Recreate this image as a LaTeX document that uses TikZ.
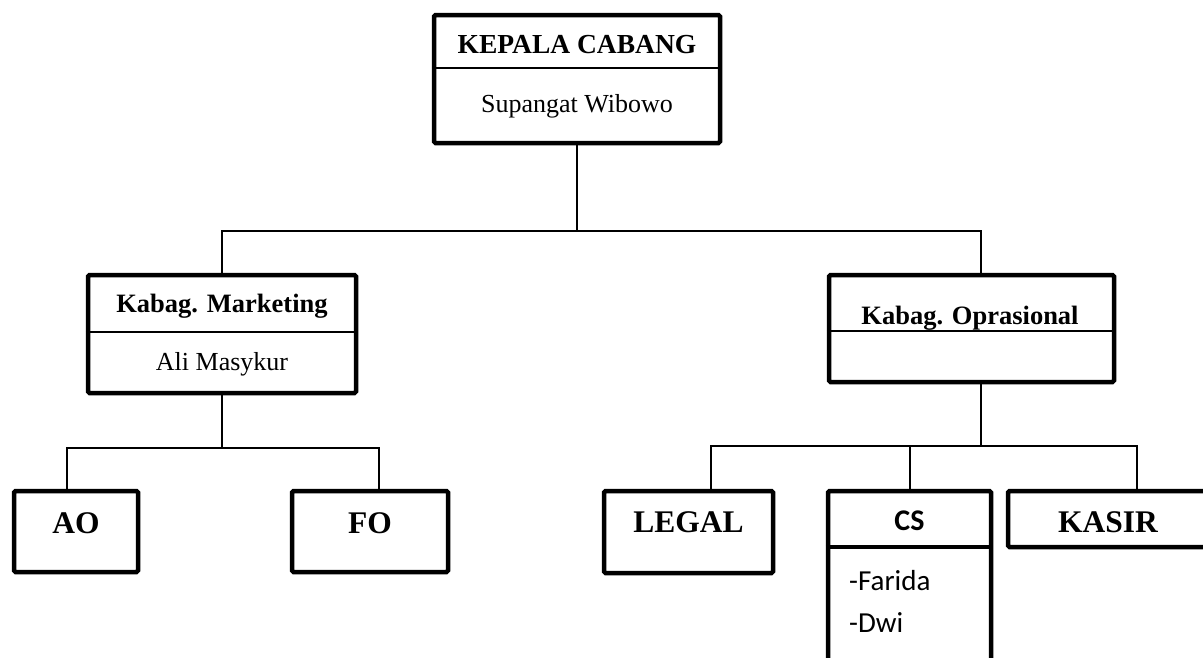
\documentclass[tikz,border=0pt]{standalone}
\usepackage{fontspec}
\setmainfont{Liberation Serif}
\newfontfamily\calibrifont{Carlito}

\tikzset{
  orgbox/.style={draw, line width=4.5pt, inner sep=0pt, rounded corners=1.5pt},
  link/.style={line width=2pt},
  headtxt/.style={anchor=base, inner sep=0pt, font=\fontsize{26.5}{31}\selectfont\bfseries},
  nametxt/.style={anchor=base, inner sep=0pt, font=\fontsize{26}{31}\selectfont},
  unittxt/.style={anchor=base, inner sep=0pt, font=\fontsize{31.5}{37}\selectfont\bfseries},
  calitxt/.style={anchor=base, inner sep=0pt, font=\calibrifont\fontsize{29}{34}\selectfont},
}

\begin{document}
\begin{tikzpicture}[x=1pt, y=-1pt]
    \useasboundingbox (0,0) rectangle (1203,657);
    \clip (0,0) rectangle (1203,657);

    % Kepala cabang
    \node[orgbox, minimum width=286pt, minimum height=128pt] (kepala) at (577,79) {};
    \draw[link] ([yshift=-55pt]kepala.north west) -- ([yshift=-55pt]kepala.north east);
    \node[headtxt, font=\fontsize{27.5}{33}\selectfont\bfseries] (kepalaT) at (577,53) {KEPALA CABANG};
    \node[nametxt] (kepalaN) at (577,112) {Supangat Wibowo};

    % Kabag
    \node[orgbox, minimum width=268pt, minimum height=118pt] (mkt) at (222,334) {};
    \draw[link] ([yshift=-59pt]mkt.north west) -- ([yshift=-59pt]mkt.north east);
    \node[headtxt] (mktT) at (222,312) {Kabag. Marketing};
    \node[nametxt] (mktN) at (222,370) {Ali Masykur};

    \node[orgbox, minimum width=285pt, minimum height=107pt] (opr) at (971.5,328.5) {};
    \draw[link] ([yshift=-58pt]opr.north west) -- ([yshift=-58pt]opr.north east);
    \node[headtxt] (oprT) at (970,324) {Kabag. Oprasional};

    % Staff marketing
    \node[orgbox, minimum width=124pt, minimum height=81pt] (ao) at (76,531.5) {};
    \node[unittxt] (aoT) at (76,533) {AO};
    \node[orgbox, minimum width=156pt, minimum height=81pt] (fo) at (370,531.5) {};
    \node[unittxt] (foT) at (370,533) {FO};

    % Staff oprasional
    \node[orgbox, minimum width=169pt, minimum height=82pt] (legal) at (688.5,532) {};
    \node[unittxt] (legalT) at (688.5,532) {LEGAL};

    \node[orgbox, minimum width=163pt, minimum height=189pt] (cs) at (909.5,585.5) {};
    \draw[line width=4.5pt] ([yshift=-58pt]cs.north west) -- ([yshift=-58pt]cs.north east);
    \node[anchor=base, inner sep=0pt, font=\calibrifont\fontsize{30}{35}\selectfont\bfseries] (csT) at (909.5,530) {CS};
    \node[calitxt, anchor=base west] (csA) at (849,590) {-Farida};
    \node[calitxt, anchor=base west] (csB) at (849,632) {-Dwi};

    \node[orgbox, minimum width=202pt, minimum height=56pt] (kasir) at (1109,519) {};
    \node[unittxt] (kasirT) at (1108,532) {KASIR};

    % Garis
    \draw[link] (kepala.south) -- ++(0,86) coordinate (topbus);
    \draw[link] (mkt.north) |- (topbus) -| ([xshift=9.5pt]opr.north);

    \draw[link] (mkt.south) -- ++(0,53) coordinate (mktbus);
    \draw[link] ([xshift=-9pt]ao.north) |- (mktbus) -| ([xshift=9pt]fo.north);

    \draw[link] ([xshift=9.5pt]opr.south) -- ++(0,62) coordinate (oprbus);
    \draw[link] ([xshift=22.5pt]legal.north) |- (oprbus) -| ([xshift=28pt]kasir.north);
    \draw[link] (cs.north) -- (cs.north |- oprbus);
\end{tikzpicture}
\end{document}
